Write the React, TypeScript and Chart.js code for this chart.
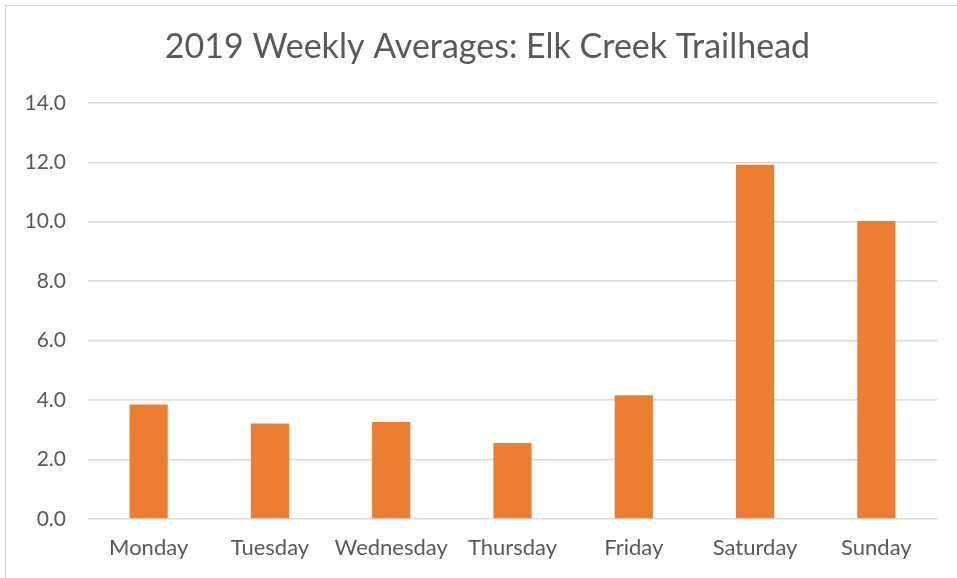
import React, { useEffect, useRef } from "react";
import { Chart, registerables } from "chart.js";

Chart.register(...registerables);

const titleText = "2019 Weekly Averages: Elk Creek Trailhead";
const days = ["Monday", "Tuesday", "Wednesday", "Thursday", "Friday", "Saturday", "Sunday"];
const averages = [3.85, 3.21, 3.26, 2.56, 4.16, 11.92, 10.02];
const yMin = 0;
const yMax = 14;
const yStep = 2;

const FONT = "Lato, 'Open Sans', sans-serif";
const TEXT = "#595959";

export default function App() {
  const ref = useRef<HTMLCanvasElement | null>(null);
  useEffect(() => {
    if (!ref.current) return;
    const chart = new Chart(ref.current, {
      type: "bar",
      data: {
        labels: days,
        datasets: [
          {
            data: averages,
            backgroundColor: "#ED7D31",
            borderWidth: 0,
            barPercentage: 0.63,
            categoryPercentage: 0.5,
            yAxisID: "y",
          },
        ],
      },
      options: {
        animation: false,
        responsive: false,
        maintainAspectRatio: false,
        layout: { padding: 0 },
        plugins: {
          legend: { display: false },
          tooltip: { enabled: false },
          title: {
            display: true,
            text: titleText,
            color: TEXT,
            font: { family: FONT, size: 34, weight: "normal" as any, lineHeight: 1.2 },
            padding: { top: 27, bottom: 35 },
          },
        },
        scales: {
          x: {
            grid: { display: false, drawTicks: false },
            border: { display: false },
            ticks: {
              color: TEXT,
              font: { family: FONT, size: 22 },
              padding: 16,
              maxRotation: 0,
              autoSkip: false,
            },
            afterFit: (s: any) => {
              s.height = 59;
            },
          },
          y: {
            position: "left",
            min: yMin,
            max: yMax,
            grid: { color: "#d9d9d9", lineWidth: 1.5, drawTicks: false },
            border: { display: false },
            ticks: {
              stepSize: yStep,
              color: TEXT,
              font: { family: FONT, size: 21 },
              padding: 22,
              callback: (v: any) => Number(v).toFixed(1),
            },
            afterFit: (s: any) => {
              s.width = 88;
            },
          },
          spacer: {
            type: "linear",
            position: "right",
            grid: { display: false, drawTicks: false },
            border: { display: false },
            ticks: { display: false },
            afterFit: (s: any) => {
              s.width = 38;
            },
          },
        },
      },
    });
    return () => chart.destroy();
  }, []);
  return (
    <div
      style={{
        position: "fixed",
        left: 0,
        top: 0,
        width: 957,
        height: 578,
        background: "#fff",
        overflow: "hidden",
      }}
    >
      <div
        style={{
          position: "absolute",
          left: 5,
          top: 5,
          width: 960,
          height: 600,
          borderLeft: "1.5px solid #d9d9d9",
          borderTop: "1.5px solid #d9d9d9",
        }}
      />
      <canvas ref={ref} width={975} height={578} style={{ position: "absolute", left: 0, top: 0 }} />
    </div>
  );
}
